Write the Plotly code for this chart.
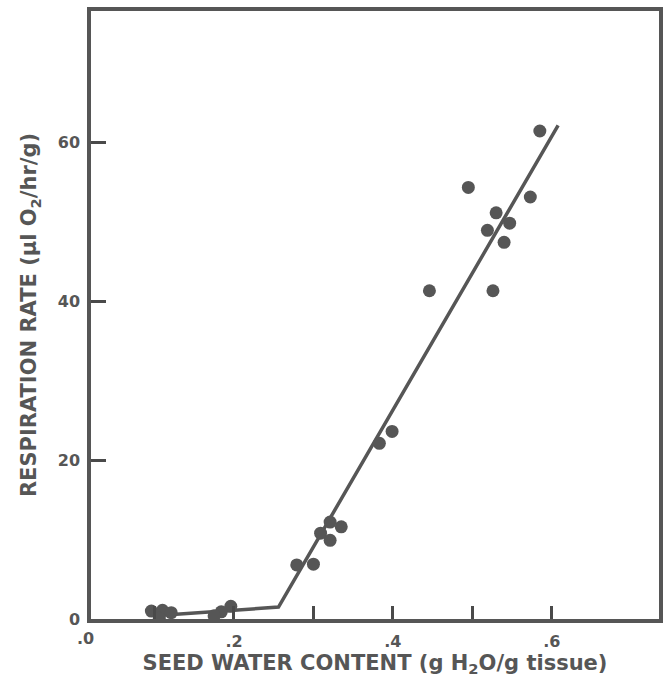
import plotly.graph_objects as go

# Measured seed water content (g H2O / g tissue) and respiration rate (µl O2/hr/g)
water_content = [0.585, 0.495, 0.573, 0.530, 0.547, 0.519, 0.540, 0.446, 0.526,
                 0.399, 0.383, 0.309, 0.321, 0.335, 0.321, 0.279, 0.300,
                 0.096, 0.110, 0.121, 0.106, 0.196, 0.184, 0.175]
respiration = [61.4, 54.3, 53.1, 51.1, 49.8, 48.9, 47.4, 41.3, 41.3,
               23.6, 22.1, 10.8, 12.2, 11.6, 9.9, 6.8, 6.9,
               1.0, 1.1, 0.8, 0.1, 1.6, 0.9, 0.4]

# Two-phase fitted line (breakpoint near 0.25 g/g)
fit_x = [0.100, 0.256, 0.608]
fit_y = [0.4, 1.5, 62.1]

x_tick_vals = [0.2, 0.4, 0.6]
x_tick_text = [".2", ".4", ".6"]
x_minor_vals = [0.1, 0.3, 0.5]
y_tick_vals = [0, 20, 40, 60]
y_tick_text = ["0", "20", "40", "60"]

INK = "#565656"
TICK = "#4a4a4a"
FONT = "DejaVu Sans"

fig = go.Figure()
fig.add_trace(go.Scatter(x=fit_x, y=fit_y, mode="lines",
                         line=dict(color=INK, width=3.5), showlegend=False))
fig.add_trace(go.Scatter(x=water_content, y=respiration, mode="markers",
                         marker=dict(color=INK, size=13, line=dict(width=0)),
                         showlegend=False))

fig.update_layout(
    width=666, height=686,
    margin=dict(l=91, r=3, t=11, b=67),
    paper_bgcolor="white", plot_bgcolor="white",
    font=dict(family=FONT, color=INK, size=16, weight="bold"),
    xaxis=dict(range=[0.02, 0.735], tickvals=x_tick_vals, ticktext=x_tick_text,
               ticks="inside", ticklen=13, tickwidth=3, tickcolor=TICK,
               minor=dict(tickvals=x_minor_vals, ticks="inside", ticklen=13,
                          tickwidth=3, tickcolor=TICK, showgrid=False),
               showline=True, linewidth=3.5, linecolor=INK, mirror=True,
               showgrid=False, zeroline=False, ticklabelstandoff=5,
               tickfont=dict(size=16, family=FONT, weight="bold"),
               title=dict(text="SEED WATER CONTENT (g H<sub>2</sub>O/g tissue)",
                          font=dict(size=21, family=FONT, weight="bold"),
                          standoff=4)),
    yaxis=dict(range=[0, 76.5], tickvals=y_tick_vals, ticktext=y_tick_text,
               ticks="inside", ticklen=15, tickwidth=3, tickcolor=TICK,
               showline=True, linewidth=3.5, linecolor=INK, mirror=True,
               showgrid=False, zeroline=False, ticklabelstandoff=4,
               tickfont=dict(size=16, family=FONT, weight="bold"),
               title=dict(text="RESPIRATION RATE (µl O<sub>2</sub>/hr/g)",
                          font=dict(size=21, family=FONT, weight="bold"),
                          standoff=16)),
)

# Origin label for the water-content axis
fig.add_annotation(text=".0", xref="paper", yref="paper", x=0, y=0,
                   xanchor="center", yanchor="top", xshift=-6, yshift=-8,
                   showarrow=False, font=dict(size=16, family=FONT, weight="bold", color=INK))

fig.write_html("out.html")
